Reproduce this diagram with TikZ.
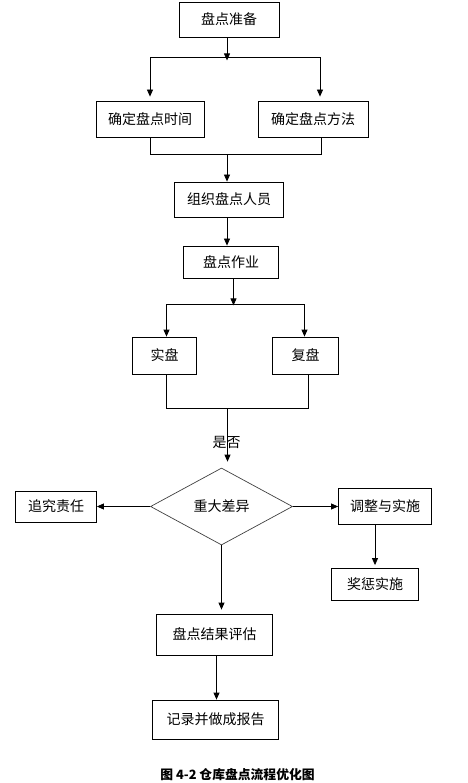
\documentclass[tikz,border=0pt]{standalone}
\usepackage{fontspec}
\setmainfont{Noto Sans CJK SC}
\usetikzlibrary{positioning,shapes.geometric,arrows.meta,calc}

\begin{document}
\begin{tikzpicture}[x=1pt,y=1pt,node distance=60pt,on grid,
    box/.style={draw,line width=0.8pt,inner sep=2pt,font=\fontsize{14pt}{16pt}\selectfont},
    decide/.style={diamond,draw=black!75,line width=0.7pt,aspect=1.84,inner sep=0pt,
      minimum width=142pt,minimum height=77pt,font=\fontsize{14pt}{16pt}\selectfont},
    line/.style={line width=0.8pt},
    arr/.style={line,-{Triangle[length=7pt,width=6pt]}}]
    \useasboundingbox (0,0) rectangle (467,-783);

    \node[box,minimum width=100pt,minimum height=35pt] (prep) at (229,-19.5) {盘点准备};
    \node[box,minimum width=108pt,minimum height=36pt] (time) [below left=99.5pt and 79pt of prep] {确定盘点时间};
    \node[box,minimum width=110pt,minimum height=36pt] (method) [below right=99.5pt and 84pt of prep] {确定盘点方法};
    \node[box,minimum width=109pt,minimum height=35pt] (staff) [below=180pt of prep] {组织盘点人员};
    \node[box,minimum width=95pt,minimum height=32pt] (work) [below right=62.5pt and 2pt of staff] {盘点作业};
    \node[box,minimum width=64pt,minimum height=37pt] (real) [below left=93.5pt and 66.5pt of work] {实盘};
    \node[box,minimum width=66pt,minimum height=37pt] (recheck) [below right=93.5pt and 74.5pt of work] {复盘};
    \node[decide] (diff) [below left=244.5pt and 9.5pt of work] {重大差异};
    \node[box,minimum width=81pt,minimum height=31pt] (blame) [left=165.5pt of diff] {追究责任};
    \node[box,minimum width=93pt,minimum height=36pt] (adjust) [right=163.5pt of diff] {调整与实施};
    \node[box,minimum width=87pt,minimum height=32pt] (reward) [below left=78pt and 10pt of adjust] {奖惩实施};
    \node[box,minimum width=116pt,minimum height=41pt] (eval) [below left=128pt and 7pt of diff] {盘点结果评估};
    \node[box,minimum width=126pt,minimum height=39pt] (report) [below right=85pt and 1pt of eval] {记录并做成报告};
    \node[font=\bfseries\fontsize{12.8pt}{14pt}\selectfont] (caption) [below right=55.5pt and 22pt of report] {图 4-2 仓库盘点流程优化图};

    % preparation splits into time and method
    \coordinate (j1) at ($(prep.south)+(-2pt,-20pt)$);
    \draw[arr] ([xshift=-2pt]prep.south) -- ([yshift=-3pt]j1);
    \draw[line] (j1 -| time.north) -- ($(j1 -| method.north)+(7pt,0)$) coordinate (j1r);
    \draw[arr,shorten >=4pt] (j1 -| time.north) -- (time.north);
    \draw[arr,shorten >=4pt] (j1r) -- (j1r |- method.north);

    % time and method join into staff
    \draw[line] (time.south) -- ++(0,-17pt) coordinate (j2l)
      -- ($(j2l -| method.south)+(8pt,0)$) coordinate (j2r) -- ($(method.south)+(8pt,0)$);
    \draw[arr] ($(j2l -| staff.north)+(-2pt,0)$) -- ([xshift=-2pt]staff.north);
    \draw[arr] ([xshift=-2pt]staff.south) -- ([xshift=-2pt]staff.south |- work.north);

    % work splits into real and recheck
    \coordinate (j3) at ($(work.south)+(2.5pt,-26pt)$);
    \draw[arr] ([xshift=2.5pt]work.south) -- ([yshift=-1pt]j3);
    \draw[line] ($(j3 -| real.north)+(2pt,0)$) -- ($(j3 -| recheck.north)+(-1pt,0)$);
    \draw[arr] ($(j3 -| real.north)+(2pt,0)$) -- ([xshift=2pt]real.north);
    \draw[arr] ($(j3 -| recheck.north)+(-1pt,0)$) -- ([xshift=-1pt]recheck.north);

    % real and recheck join into the decision
    \draw[line] ([xshift=2pt]real.south) -- ++(0,-34pt) coordinate (j4l)
      -- ($(j4l -| recheck.south)+(3pt,0)$) -- ([xshift=3pt]recheck.south);
    \draw[arr,shorten >=6pt] ($(j4l -| diff.north)+(6pt,0)$) -- node[pos=0.57,inner sep=0pt,xshift=-1pt,
      font=\fontsize{14pt}{16pt}\selectfont] {是否} ([xshift=6pt]diff.north);

    % decision branches
    \draw[arr] (diff.west) -- (diff.west -| blame.east);
    \draw[arr] (diff.east) -- (diff.east -| adjust.west);
    \draw[arr,shorten >=3pt] (reward.north |- adjust.south) -- (reward.north);
    \draw[arr,shorten >=4pt] (diff.south) -- (diff.south |- eval.north);
    \draw[arr] ([xshift=2pt]eval.south) -- ([xshift=2pt]eval.south |- report.north);
\end{tikzpicture}
\end{document}
